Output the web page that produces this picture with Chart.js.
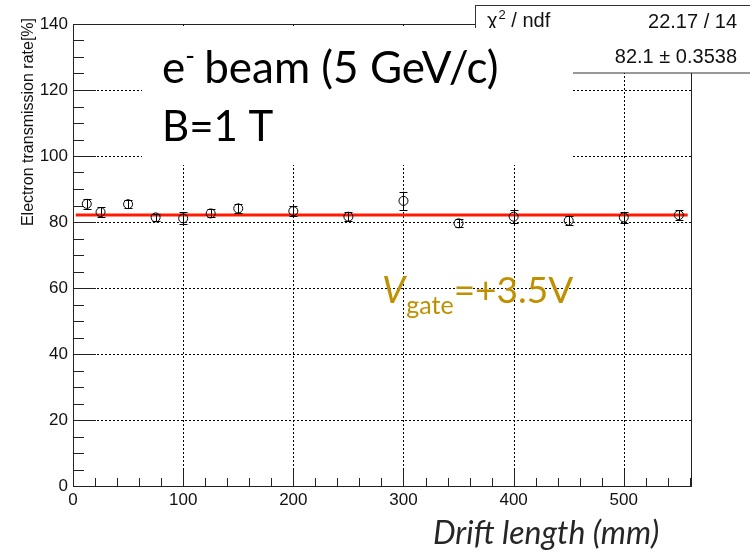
<!DOCTYPE html>
<html>
<head>
<meta charset="utf-8">
<script src="https://cdn.jsdelivr.net/npm/chart.js@4.4.1/dist/chart.umd.min.js"></script>
<style>
  html, body { margin: 0; padding: 0; background: #fff; }
  #wrap { width: 750px; height: 552px; position: relative; }
</style>
</head>
<body>
<div id="wrap"><canvas id="chart"></canvas></div>
<script>
// Values
const driftLength = [12.5, 25, 50, 75, 100, 125, 150, 200, 250, 300, 350, 400, 450, 500, 550];
const transRate   = [85.5, 83.0, 85.4, 81.4, 81.1, 82.6, 84.1, 83.3, 81.6, 86.4, 79.6, 81.6, 80.4, 81.4, 82.1];
const transErr    = [1.5, 1.4, 1.2, 1.1, 1.8, 1.2, 1.5, 1.4, 1.4, 2.8, 1.2, 1.9, 1.3, 1.7, 1.4];

// Constant fit (pol0)
const fitValue = 82.1;
const fitRange = [2.5, 558];

const xTickValues = [0, 100, 200, 300, 400, 500];
const yTickValues = [0, 20, 40, 60, 80, 100, 120, 140];

const ROOT_FONT = '"Liberation Sans", Arial, sans-serif';
const PPT_FONT = 'Lato, "Open Sans", sans-serif';

/* ===========================================================
   ROOT STYLE FRAME: dotted grid, ticks, axes
=========================================================== */
const framePlugin = {
    id: 'rootFrame',
    beforeDatasetsDraw(chart) {
        const { ctx, chartArea: a, scales: { x, y } } = chart;
        ctx.save();
        ctx.lineWidth = 1;
        ctx.strokeStyle = '#000';

        // grid lines (dotted) at major ticks
        ctx.setLineDash([2, 2]);
        xTickValues.forEach(v => {
            if (v <= x.min || v >= x.max) return;
            const px = Math.round(x.getPixelForValue(v)) + 0.5;
            ctx.beginPath(); ctx.moveTo(px, a.bottom); ctx.lineTo(px, a.top); ctx.stroke();
        });
        yTickValues.forEach(v => {
            if (v <= y.min || v >= y.max) return;
            const py = Math.round(y.getPixelForValue(v)) + 0.5;
            ctx.beginPath(); ctx.moveTo(a.left, py); ctx.lineTo(a.right, py); ctx.stroke();
        });
        ctx.setLineDash([]);

        // ticks
        ctx.strokeStyle = '#222';
        for (let v = 0; v <= x.max; v += 20) {
            const px = Math.round(x.getPixelForValue(v)) + 0.5;
            const len = v % 100 === 0 ? 16 : 8;
            ctx.beginPath(); ctx.moveTo(px, a.bottom); ctx.lineTo(px, a.bottom - len); ctx.stroke();
        }
        for (let v = 0; v <= y.max; v += 5) {
            const py = Math.round(y.getPixelForValue(v)) + 0.5;
            const len = v % 20 === 0 ? 23 : 11;
            ctx.beginPath(); ctx.moveTo(a.left, py); ctx.lineTo(a.left + len, py); ctx.stroke();
        }

        // frame
        ctx.strokeStyle = '#222';
        ctx.strokeRect(Math.round(a.left) + 0.5, Math.round(a.top) + 0.5,
                       Math.round(a.right - a.left), Math.round(a.bottom - a.top));
        ctx.restore();
    },
    afterDatasetsDraw(chart) {
        // vertical error bars with small end caps
        const { ctx, scales: { x, y } } = chart;
        ctx.save();
        ctx.strokeStyle = '#000';
        ctx.lineWidth = 1;
        driftLength.forEach((d, i) => {
            const px = Math.round(x.getPixelForValue(d)) + 0.5;
            const top = y.getPixelForValue(transRate[i] + transErr[i]);
            const bot = y.getPixelForValue(transRate[i] - transErr[i]);
            ctx.beginPath();
            ctx.moveTo(px, top); ctx.lineTo(px, bot);
            ctx.moveTo(px - 4, Math.round(top) + 0.5); ctx.lineTo(px + 4, Math.round(top) + 0.5);
            ctx.moveTo(px - 4, Math.round(bot) + 0.5); ctx.lineTo(px + 4, Math.round(bot) + 0.5);
            ctx.stroke();
        });
        ctx.restore();
    }
};

/* ===========================================================
   OVERLAYS: stats box, slide text boxes, axis titles
=========================================================== */
const overlayPlugin = {
    id: 'overlays',
    afterDraw(chart) {
        const { ctx } = chart;
        ctx.save();

        // y-axis title (ROOT, right aligned to the top)
        ctx.save();
        ctx.translate(33, 18);
        ctx.rotate(-Math.PI / 2);
        ctx.font = `16px ${ROOT_FONT}`;
        ctx.fillStyle = '#111';
        ctx.textAlign = 'right';
        ctx.textBaseline = 'alphabetic';
        ctx.fillText('Electron transmission rate[%]', 0, 0);
        ctx.restore();

        // stats box
        ctx.fillStyle = '#fff';
        ctx.fillRect(475, 5, 275, 68);
        ctx.strokeStyle = '#333';
        ctx.lineWidth = 1;
        ctx.strokeRect(475.5, 5.5, 280, 67.5);

        ctx.fillStyle = '#111';
        ctx.textBaseline = 'alphabetic';
        ctx.textAlign = 'left';
        ctx.font = `20px ${ROOT_FONT}`;
        ctx.fillText('\u03C7', 487, 27);
        let w = ctx.measureText('\u03C7').width;
        ctx.font = `13px ${ROOT_FONT}`;
        ctx.fillText('2', 487 + w + 1, 19);
        const w2 = ctx.measureText('2').width;
        ctx.font = `20px ${ROOT_FONT}`;
        ctx.fillText(' / ndf', 487 + w + w2 + 1, 27);
        ctx.textAlign = 'right';
        ctx.fillText('22.17 / 14', 737, 28);
        ctx.fillText('82.1 \u00B1 0.3538', 737, 63);

        // slide text box with white fill
        ctx.fillStyle = '#fff';
        ctx.fillRect(142, 28, 431, 137);

        ctx.fillStyle = '#000';
        ctx.textAlign = 'left';
        ctx.font = `44px ${PPT_FONT}`;
        ctx.fillText('e', 162, 83);
        w = ctx.measureText('e').width;
        ctx.font = `26px ${PPT_FONT}`;
        ctx.fillText('-', 162 + w, 65);
        const wm = ctx.measureText('-').width;
        ctx.font = `44px ${PPT_FONT}`;
        ctx.fillText(' beam (5 GeV/c)', 162 + w + wm - 2, 83);
        ctx.font = `42px ${PPT_FONT}`;
        ctx.fillText('B=1 T', 162, 141);

        // gate voltage label
        ctx.fillStyle = '#BF9000';
        ctx.font = `italic 37px ${PPT_FONT}`;
        ctx.fillText('V', 382, 303);
        w = ctx.measureText('V').width;
        ctx.font = `25px ${PPT_FONT}`;
        ctx.fillText('gate', 382 + w + 1, 314);
        const wg = ctx.measureText('gate').width;
        ctx.font = `37px ${PPT_FONT}`;
        ctx.fillText('=+3.5V', 382 + w + wg + 1, 303);

        // x-axis title
        ctx.fillStyle = '#262626';
        ctx.font = `italic 32px ${PPT_FONT}`;
        ctx.fillText('Drift length (mm)', 433, 544);

        ctx.restore();
    }
};

const ctx = document.getElementById('chart').getContext('2d');
const chart = new Chart(ctx, {
    type: 'scatter',
    data: {
        datasets: [
            {
                label: 'data',
                data: driftLength.map((d, i) => ({ x: d, y: transRate[i] })),
                pointStyle: 'circle',
                pointRadius: 4.5,
                pointBorderWidth: 1,
                pointBorderColor: '#000',
                pointBackgroundColor: 'rgba(0,0,0,0)',
                showLine: false,
                order: 0
            },
            {
                label: 'fit',
                type: 'line',
                data: fitRange.map(v => ({ x: v, y: fitValue })),
                borderColor: '#ff1a00',
                borderWidth: 3,
                pointRadius: 0,
                fill: false,
                order: 1
            }
        ]
    },
    options: {
        responsive: true,
        maintainAspectRatio: false,
        devicePixelRatio: 1,
        animation: false,
        events: [],
        layout: { padding: { top: 24, right: 59, left: 0, bottom: 0 } },
        plugins: { legend: { display: false }, tooltip: { enabled: false }, title: { display: false } },
        scales: {
            x: {
                type: 'linear',
                min: 0,
                max: 561,
                afterBuildTicks: s => { s.ticks = xTickValues.map(v => ({ value: v })); },
                afterFit: s => { s.height = 66; },
                grid: { display: false, drawTicks: false },
                border: { display: false },
                ticks: {
                    padding: 4,
                    color: '#111',
                    font: { family: ROOT_FONT, size: 17 },
                    maxRotation: 0
                }
            },
            y: {
                type: 'linear',
                min: 0,
                max: 140,
                afterBuildTicks: s => { s.ticks = yTickValues.map(v => ({ value: v })); },
                afterFit: s => { s.width = 73; },
                grid: { display: false, drawTicks: false },
                border: { display: false },
                ticks: {
                    padding: 5,
                    color: '#111',
                    font: { family: ROOT_FONT, size: 17 }
                }
            }
        }
    },
    plugins: [framePlugin, overlayPlugin]
});
</script>
</body>
</html>
